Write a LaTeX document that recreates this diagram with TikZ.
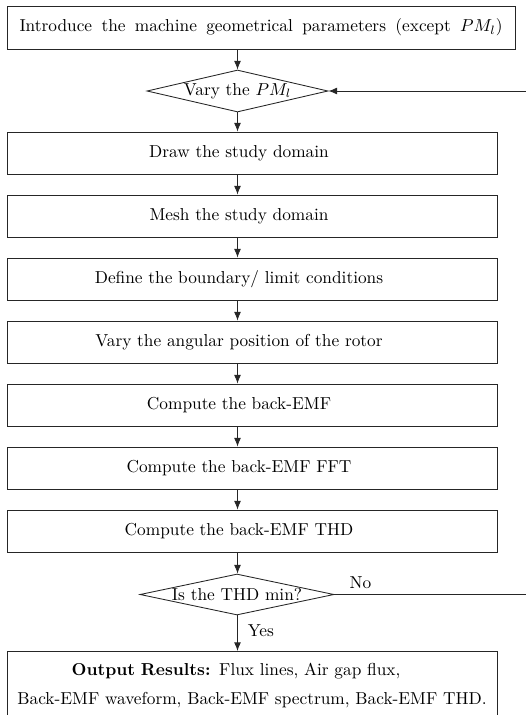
\documentclass[tikz,border=0pt]{standalone}
\usetikzlibrary{shapes.geometric,arrows.meta}
% one drawing unit
\newlength\px
\setlength\px{0.578pt}
\tikzset{
  flow/.style={draw=black!85, line width=0.5pt, rectangle, inner sep=0pt, minimum height=42\px},
  stepbox/.style={flow, minimum width=490\px},
  decide/.style={draw=black!85, line width=0.5pt, diamond, inner sep=0pt},
  arr/.style={draw=black!85, line width=0.5pt, -{Latex[length=5pt,width=4pt]}},
  lbl/.style={inner sep=0pt}
}
% text in the step boxes sits a little left of the box centre
\newcommand\boxtxt[1]{\hspace*{-26\px}#1}
\begin{document}
\begin{tikzpicture}[x=\px,y=-\px]
\clip (0,0) rectangle (526,715);

\node[flow, minimum width=508\px, minimum height=43\px] (intro) at (261,27.5)
  {\makebox[483\px][s]{Introduce the machine geometrical parameters (except $PM_l$)}};
\node[decide, minimum width=181\px, minimum height=42\px] (pm) at (237.5,91)
  {\makebox[0pt]{Vary the $PM_l$}};

\node[stepbox] (dom)   at (252,153) {\boxtxt{Draw the study domain}};
\node[stepbox] (mesh)  at (252,216) {\boxtxt{Mesh the study domain}};
\node[stepbox] (bound) at (252,279) {\boxtxt{Define the boundary/ limit conditions}};
\node[stepbox] (rot)   at (252,342) {\boxtxt{Vary the angular position of the rotor}};
\node[stepbox] (emf)   at (252,405) {\boxtxt{Compute the back-EMF}};
\node[stepbox] (fft)   at (252,468) {\boxtxt{Compute the back-EMF FFT}};
\node[stepbox] (thd)   at (252,531) {\boxtxt{Compute the back-EMF THD}};

\node[decide, minimum width=194\px, minimum height=41\px] (test) at (237,594.5)
  {\makebox[0pt]{Is the THD min?}};

\node[draw=black!85, line width=0.5pt, rectangle, anchor=north, minimum width=490\px,
      inner xsep=4\px, inner ysep=12\px, text width=482\px, align=center] (out) at (252,651)
  {\hspace*{-32\px}\textbf{Output Results:} Flux lines, Air gap flux,\\[4.8pt]
   Back-EMF waveform, Back-EMF spectrum, Back-EMF THD.};

% main flow
\draw[arr] (intro.south -| pm) -- (pm.north);
\draw[arr] (pm.south) -- (dom.north -| pm);
\draw[arr] (dom.south -| pm) -- (mesh.north -| pm);
\draw[arr] (mesh.south -| pm) -- (bound.north -| pm);
\draw[arr] (bound.south -| pm) -- (rot.north -| pm);
\draw[arr] (rot.south -| pm) -- (emf.north -| pm);
\draw[arr] (emf.south -| pm) -- (fft.north -| pm);
\draw[arr] (fft.south -| pm) -- (thd.north -| pm);
\draw[arr] (thd.south -| pm) -- (test.north -| pm);
\draw[arr] (test.south -| pm) -- node[lbl, right=10\px, pos=0.42] {Yes} (out.north -| pm);

% loop back to the magnet length
\draw[arr] (test.east) -- node[lbl, above=5\px, pos=0.123] {No} ++(212,0) |- (pm.east);
\end{tikzpicture}
\end{document}
